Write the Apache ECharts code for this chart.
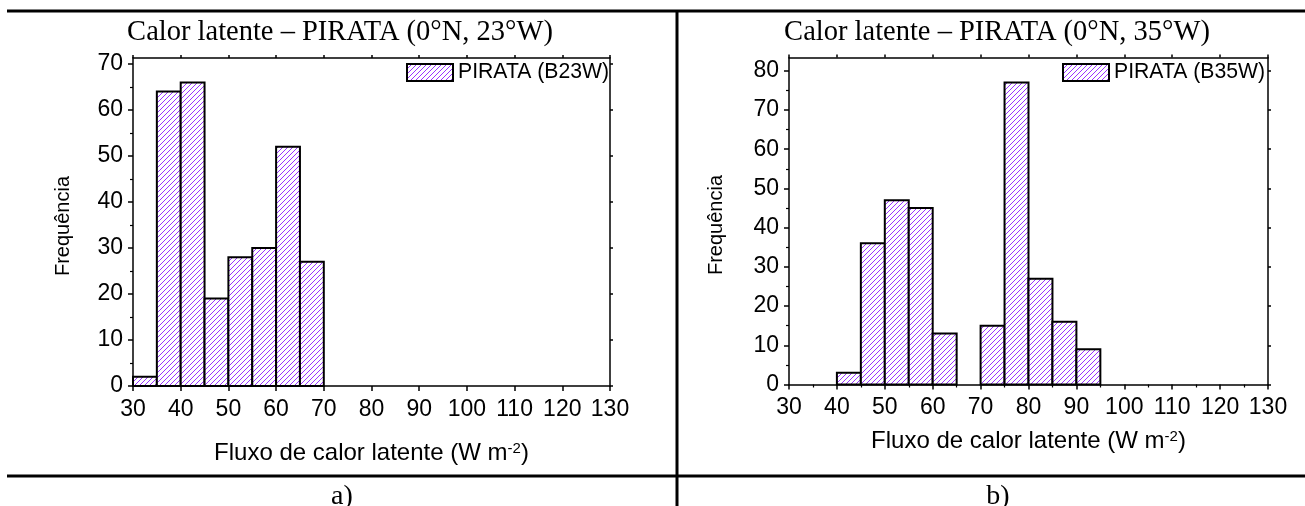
<!DOCTYPE html>
<html><head><meta charset="utf-8">
<script src="https://cdn.jsdelivr.net/npm/echarts@6/dist/echarts.min.js"></script>
<style>html,body{margin:0;padding:0;background:#fff}#c{width:1305px;height:506px}</style>
</head><body><div id="c"></div>
<script>
// ---- data ----
const binStartA = [30, 35, 40, 45, 50, 55, 60, 65];
const binEndA   = [35, 40, 45, 50, 55, 60, 65, 70];
const countsA   = [2, 64, 66, 19, 28, 30, 52, 27];

const binStartB = [40, 45, 50, 55, 60, 65, 70, 75, 80, 85, 90];
const binEndB   = [45, 50, 55, 60, 65, 70, 75, 80, 85, 90, 95];
const countsB   = [3, 36, 47, 45, 13, 0, 15, 77, 27, 16, 9];

const xTicks  = [30, 40, 50, 60, 70, 80, 90, 100, 110, 120, 130];
const yTicksA = [0, 10, 20, 30, 40, 50, 60, 70];
const yTicksB = [0, 10, 20, 30, 40, 50, 60, 70, 80];

const titleA = 'Calor latente – PIRATA (0°N, 23°W)';
const titleB = 'Calor latente – PIRATA (0°N, 35°W)';
const seriesNameA = 'PIRATA (B23W)';
const seriesNameB = 'PIRATA (B35W)';
const xName = 'Fluxo de calor latente (W m{sup|-2})';
const yName = 'Frequência';
const panelA = 'a)';
const panelB = 'b)';

// ---- style helpers ----
const SANS = 'Liberation Sans';
const SERIF = 'Liberation Serif';
const HATCH = '#9933ff';

function makePattern() {
  const s = 5;
  const c = document.createElement('canvas');
  c.width = s; c.height = s;
  const g = c.getContext('2d');
  g.fillStyle = '#ffffff';
  g.fillRect(0, 0, s, s);
  g.fillStyle = HATCH;
  for (let i = 0; i < s; i++) g.fillRect(i, s - 1 - i, 1, 1);
  return { image: c, repeat: 'repeat' };
}

const lineStyle = { color: '#000', width: 1.5 };

function bottomX(gi, nameGap, minor) {
  return {
    type: 'value', gridIndex: gi, position: 'bottom', min: 30, max: 130, interval: 10,
    axisLine: { onZero: false, lineStyle },
    axisTick: { inside: false, length: 5, lineStyle, customValues: xTicks },
    minorTick: { show: minor, splitNumber: 2, length: 3, lineStyle: { color: '#000', width: 1.2 } },
    axisLabel: { fontFamily: SANS, fontSize: 23, color: '#000', margin: 12, customValues: xTicks },
    splitLine: { show: false },
    name: xName, nameLocation: 'middle', nameGap: nameGap,
    nameTextStyle: {
      fontFamily: SANS, fontSize: 24, color: '#000',
      rich: { sup: { fontFamily: SANS, fontSize: 15, color: '#000', verticalAlign: 'top' } }
    }
  };
}
function topX(gi) {
  return {
    type: 'value', gridIndex: gi, position: 'top', min: 30, max: 130, interval: 10,
    axisLine: { onZero: false, lineStyle },
    axisTick: { inside: false, length: 3, lineStyle, customValues: xTicks },
    axisLabel: { show: false },
    splitLine: { show: false }
  };
}
function leftY(gi, max, ticks, nameGap) {
  return {
    type: 'value', gridIndex: gi, position: 'left', min: 0, max: max, interval: 10,
    axisLine: { onZero: false, lineStyle },
    axisTick: { inside: false, length: 5, lineStyle, customValues: ticks },
    minorTick: { show: true, splitNumber: 2, length: 3, lineStyle: { color: '#000', width: 1.2 } },
    axisLabel: { fontFamily: SANS, fontSize: 23, color: '#000', margin: 10, customValues: ticks },
    splitLine: { show: false },
    name: yName, nameLocation: 'middle', nameGap: nameGap,
    nameTextStyle: { fontFamily: SANS, fontSize: 20, color: '#000', padding: [0, 8, 0, 0] }
  };
}
function rightY(gi, max, ticks) {
  return {
    type: 'value', gridIndex: gi, position: 'right', min: 0, max: max, interval: 10,
    axisLine: { onZero: false, lineStyle },
    axisTick: { inside: false, length: 3, lineStyle, customValues: ticks },
    axisLabel: { show: false },
    splitLine: { show: false }
  };
}

function renderHist(params, api) {
  const x0 = api.value(0), x1 = api.value(1), y = api.value(2);
  if (!y) return null;
  const p0 = api.coord([x0, y]);
  const p1 = api.coord([x1, 0]);
  return {
    type: 'rect',
    shape: { x: p0[0], y: p0[1], width: p1[0] - p0[0], height: p1[1] - p0[1] },
    style: { fill: api.visual('color'), stroke: '#000', lineWidth: 2 }
  };
}

const dataA = binStartA.map((s, i) => [s, binEndA[i], countsA[i]]);
const dataB = binStartB.map((s, i) => [s, binEndB[i], countsB[i]]);

const legendBase = {
  padding: 0, itemWidth: 46, itemHeight: 17, icon: 'rect',
  textStyle: { fontFamily: SANS, fontSize: 21.2, color: '#000' }
};

const chart = echarts.init(document.getElementById('c'), null, { renderer: 'canvas' });
chart.setOption({
  backgroundColor: '#fff',
  animation: false,
  title: [
    { text: titleA, left: 340, top: 18, textAlign: 'center', padding: 0,
      textStyle: { fontFamily: SERIF, fontSize: 28.5, fontWeight: 'normal', color: '#000' } },
    { text: titleB, left: 997, top: 18, textAlign: 'center', padding: 0,
      textStyle: { fontFamily: SERIF, fontSize: 28.5, fontWeight: 'normal', color: '#000' } }
  ],
  legend: [
    Object.assign({}, legendBase, { data: [seriesNameA], left: 406, top: 62,
      itemStyle: { color: makePattern(), borderColor: '#000', borderWidth: 2 } }),
    Object.assign({}, legendBase, { data: [seriesNameB], left: 1062, top: 62,
      itemStyle: { color: makePattern(), borderColor: '#000', borderWidth: 2 } })
  ],
  grid: [
    { left: 133, right: 695, top: 58, bottom: 120, containLabel: false },
    { left: 789, right: 37, top: 57.5, bottom: 121.5, containLabel: false }
  ],
  xAxis: [bottomX(0, 55, false), topX(0), bottomX(1, 45, true), topX(1)],
  yAxis: [leftY(0, 71.3, yTicksA, 60), rightY(0, 71.3, yTicksA), leftY(1, 83.4, yTicksB, 63), rightY(1, 83.4, yTicksB)],
  series: [
    { type: 'custom', name: seriesNameA, xAxisIndex: 0, yAxisIndex: 0, data: dataA,
      encode: { x: [0, 1], y: 2 }, renderItem: renderHist,
      itemStyle: { color: makePattern(), borderColor: '#000', borderWidth: 2 } },
    { type: 'custom', name: seriesNameB, xAxisIndex: 2, yAxisIndex: 2, data: dataB,
      encode: { x: [0, 1], y: 2 }, renderItem: renderHist,
      itemStyle: { color: makePattern(), borderColor: '#000', borderWidth: 2 } }
  ],
  graphic: [
    { type: 'line', shape: { x1: 7, y1: 11, x2: 1305, y2: 11 }, style: { stroke: '#000', lineWidth: 3 } },
    { type: 'line', shape: { x1: 7, y1: 476, x2: 1305, y2: 476 }, style: { stroke: '#000', lineWidth: 3 } },
    { type: 'line', shape: { x1: 677, y1: 11, x2: 677, y2: 506 }, style: { stroke: '#000', lineWidth: 3 } },
    { type: 'text', x: 342, y: 497, style: { text: panelA, font: '28px "Liberation Serif"', textAlign: 'center', textVerticalAlign: 'middle', fill: '#000' } },
    { type: 'text', x: 998, y: 497, style: { text: panelB, font: '28px "Liberation Serif"', textAlign: 'center', textVerticalAlign: 'middle', fill: '#000' } }
  ]
});
</script>
</body></html>
